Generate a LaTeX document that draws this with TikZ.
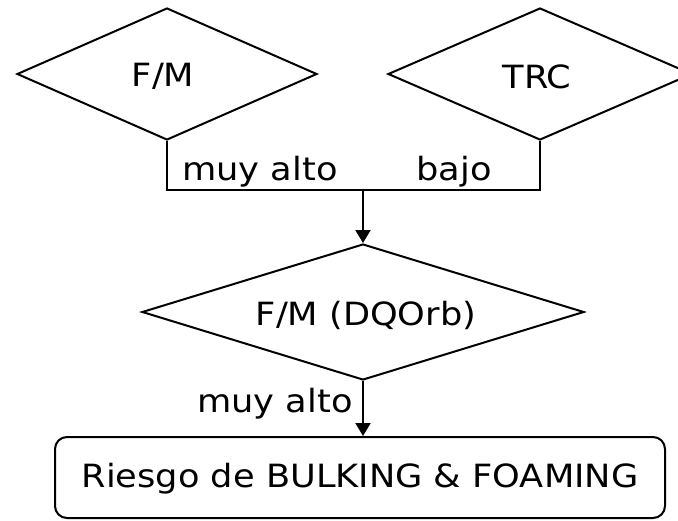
\documentclass[tikz,border=0pt]{standalone}
\usepackage{fontspec}
\setmainfont[FakeStretch=1.1]{DejaVu Sans}
\usetikzlibrary{shapes.geometric,arrows.meta}
\begin{document}
\begin{tikzpicture}[x=1pt,y=-1pt,
  every node/.style={font=\fontsize{32}{38}\selectfont},
  dec/.style={draw,diamond,line width=2pt,inner sep=0pt},
  conn/.style={line width=2pt},
  arr/.style={conn,-{Triangle[length=13pt,width=15pt]}},
  lbl/.style={anchor=base,inner sep=0pt},
  endbox/.style={draw,rounded corners=12pt,line width=2pt,minimum width=610pt,minimum height=81pt}]
\clip (0,0) rectangle (678,520);
\node[dec,minimum width=300pt,minimum height=132pt] (fm) at (167,74) {};
\node at (163,76) {F/M};
\node[dec,minimum width=304pt,minimum height=132pt] (trc) at (540,74) {};
\node at (537,77) {TRC};
\node[dec,minimum width=442pt,minimum height=136pt] (fmd) at (363,312) {};
\node at (366,315) {F/M (DQOrb)};
\node[endbox] (risk) at (360,477.5) {};
\node at (360,479) {Riesgo de BULKING \& FOAMING};
\coordinate (c1) at (167,190);
\coordinate (c2) at (540,190);
\coordinate (j) at (363,190);
\draw[conn] (fm.south) -- (c1) -- (c2) -- (trc.south);
\draw[arr] (j) -- (fmd.north);
\draw[arr] (fmd.south) -- (fmd.south |- risk.north);
\node[lbl] (l1) at (260,180) {muy alto};
\node[lbl] (l2) at (454,180) {bajo};
\node[lbl] (l3) at (275,412) {muy alto};
\end{tikzpicture}
\end{document}
